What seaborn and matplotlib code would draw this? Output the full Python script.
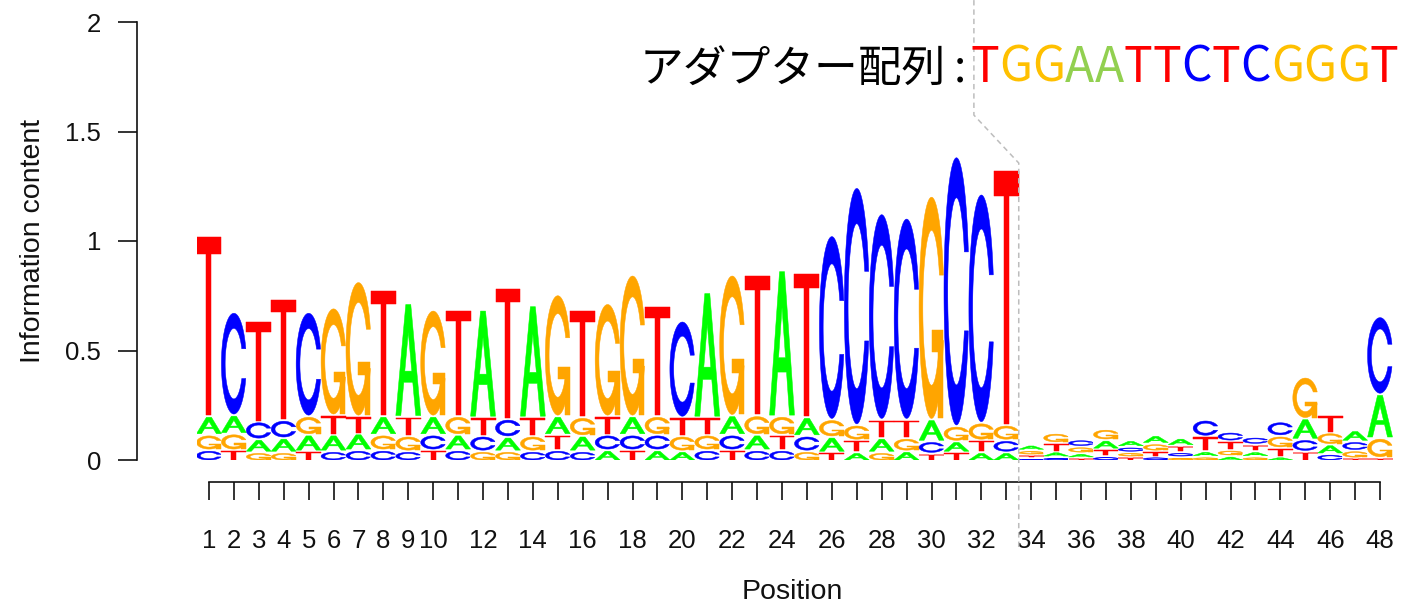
import numpy as np
import pandas as pd
import matplotlib
matplotlib.use("Agg")
import matplotlib.pyplot as plt
from matplotlib.path import Path
from matplotlib.patches import PathPatch
import seaborn as sns

# ---------------- data (letter heights in bits) ----------------
positions = list(range(1, 49))
heights_A = [0.075, 0.075, 0.050, 0.055, 0.065, 0.065, 0.065, 0.075, 0.507, 0.075,
             0.060, 0.480, 0.055, 0.500, 0.075, 0.060, 0.040, 0.075, 0.040, 0.035,
             0.560, 0.078, 0.060, 0.655, 0.075, 0.060, 0.030, 0.055, 0.035, 0.090,
             0.040, 0.030, 0.030, 0.015, 0.015, 0.012, 0.032, 0.020, 0.028, 0.025,
             0.015, 0.013, 0.014, 0.010, 0.085, 0.033, 0.040, 0.190]
heights_C = [0.040, 0.460, 0.070, 0.072, 0.465, 0.035, 0.040, 0.040, 0.035, 0.060,
             0.040, 0.060, 0.072, 0.035, 0.040, 0.035, 0.060, 0.060, 0.060, 0.430,
             0.040, 0.060, 0.040, 0.040, 0.060, 0.830, 1.075, 0.930, 0.910, 0.045,
             1.220, 1.035, 0.045, 0.003, 0.008, 0.022, 0.012, 0.015, 0.010, 0.012,
             0.065, 0.032, 0.024, 0.055, 0.045, 0.022, 0.032, 0.345]
heights_G = [0.060, 0.065, 0.030, 0.030, 0.075, 0.480, 0.605, 0.060, 0.060, 0.475,
             0.075, 0.035, 0.035, 0.060, 0.545, 0.075, 0.505, 0.635, 0.075, 0.060,
             0.060, 0.632, 0.078, 0.075, 0.035, 0.070, 0.060, 0.030, 0.050, 1.010,
             0.060, 0.070, 0.060, 0.012, 0.035, 0.020, 0.040, 0.012, 0.025, 0.008,
             0.010, 0.018, 0.010, 0.045, 0.180, 0.045, 0.025, 0.080]
heights_T = [0.815, 0.040, 0.450, 0.543, 0.035, 0.080, 0.070, 0.565, 0.078, 0.040,
             0.475, 0.075, 0.588, 0.075, 0.060, 0.480, 0.075, 0.040, 0.495, 0.075,
             0.070, 0.040, 0.632, 0.060, 0.650, 0.030, 0.045, 0.075, 0.075, 0.025,
             0.030, 0.045, 1.155, 0.004, 0.030, 0.004, 0.022, 0.008, 0.015, 0.020,
             0.058, 0.030, 0.022, 0.030, 0.034, 0.070, 0.003, 0.005]
x_tick_labels = [str(p) if (p <= 10 or p % 2 == 0) else "" for p in positions]
y_ticks = [0, 0.5, 1, 1.5, 2]
y_tick_labels = ["0", "0.5", "1", "1.5", "2"]
title_prefix = "アダプター配列"
adapter_seq = "TGGAATTCTCGGGT"

df = pd.DataFrame({"A": heights_A, "C": heights_C, "G": heights_G, "T": heights_T},
                  index=positions)

# ---------------- styles ----------------
letter_colors = {"A": "#00FF00", "C": "#0000FF", "G": "#FFA500", "T": "#FF0000"}
title_colors = {"A": "#92D050", "C": "#0000FF", "G": "#FFC000", "T": "#FF0000"}
axis_color = "#111111"

sns.set_theme(style="white")
plt.rcParams["font.family"] = ["Liberation Sans", "Noto Sans CJK JP", "DejaVu Sans"]


# ---------------- seqLogo-style letter polygons (unit box) ----------------
def _c_ring():
    a1 = np.linspace(0.3 + np.pi / 2, np.pi, 100)
    a2 = np.linspace(np.pi, 1.5 * np.pi, 100)
    xl1, yl1 = 0.5 + 0.5 * np.sin(a1), 0.5 + 0.5 * np.cos(a1)
    xl2, yl2 = 0.5 + 0.5 * np.sin(a2), 0.5 + 0.5 * np.cos(a2)
    xl, yl = np.r_[xl1, xl2], np.r_[yl1, yl2]
    x = np.r_[xl, xl[::-1]]
    y = np.r_[yl, 1 - yl[::-1]]
    xi1, yi1 = 0.5 + 0.35 * np.sin(a1), 0.5 + 0.35 * np.cos(a1)
    keep = yi1 <= yl1.max()
    xi1, yi1 = xi1[keep], yi1[keep]
    yi1[0] = yl1.max()
    xi2, yi2 = 0.5 + 0.35 * np.sin(a2), 0.5 + 0.35 * np.cos(a2)
    xi, yi = np.r_[xi1, xi2], np.r_[yi1, yi2]
    x1 = np.r_[xi, xi[::-1]]
    y1 = np.r_[yi, 1 - yi[::-1]]
    return np.r_[x, x1[::-1]], np.r_[y, y1[::-1]], xl1.max()


def letter_polys(ch):
    if ch == "T":
        x = np.array([0, 10, 10, 6, 6, 4, 4, 0]) * 0.1
        y = np.array([10, 10, 9, 9, 0, 0, 9, 9]) * 0.1
        return [[(x, y)]]
    if ch == "A":
        ox = np.array([0, 4, 6, 10, 8, 6.8, 3.2, 2]) * 0.1
        oy = np.array([0, 10, 10, 0, 0, 3, 3, 0]) * 0.1
        ix = np.array([6.4, 5, 3.6]) * 0.1
        iy = np.array([4, 7.5, 4]) * 0.1
        return [[(ox, oy), (ix, iy)]]
    x, y, r1 = _c_ring()
    if ch == "C":
        return [[(x, y)]]
    h1 = 0.4
    xa = np.array([r1, 0.5, 0.5, r1 - 0.2, r1 - 0.2, r1])
    ya = np.array([h1, h1, h1 - 0.1, h1 - 0.1, 0, 0])
    return [[(x, y)], [(xa, ya)]]


def draw_letter(ax, ch, x0, y0, w, h):
    for group in letter_polys(ch):
        verts, codes = [], []
        for px, py in group:
            pts = np.column_stack([x0 + px * w, y0 + py * h])
            verts.extend(pts.tolist())
            verts.append(pts[0].tolist())
            codes.extend([Path.MOVETO] + [Path.LINETO] * (len(pts) - 1) + [Path.CLOSEPOLY])
        patch = PathPatch(Path(verts, codes), facecolor=letter_colors[ch],
                          edgecolor=letter_colors[ch], linewidth=0.35, zorder=3)
        ax.add_patch(patch)


# ---------------- figure ----------------
W, H = 1405, 614
fig = plt.figure(figsize=(W / 100, H / 100), dpi=100)
fig.patch.set_facecolor("white")
ax = fig.add_axes([196.5 / W, 154 / H, 1196 / W, 438 / H])
ax.set_facecolor("white")

gap = 0.01
for pos in df.index:
    col = df.loc[pos].sort_values(kind="stable")
    ybase = 0.0
    for ch, h in col.items():
        if h > 0:
            draw_letter(ax, ch, pos - 0.5, ybase, 1.0, h)
        ybase += h + gap

ax.set_xlim(0.5, 48.5)
ax.set_ylim(0, 2)
for s in ["top", "right"]:
    ax.spines[s].set_visible(False)
ax.spines["left"].set_position(("outward", 42.8))
ax.spines["left"].set_bounds(0, 2)
ax.spines["bottom"].set_position(("outward", 15.8))
ax.spines["bottom"].set_bounds(1, 48)
for s in ["left", "bottom"]:
    ax.spines[s].set_color(axis_color)
    ax.spines[s].set_linewidth(1.2)

ax.set_xticks(positions)
ax.set_xticklabels(x_tick_labels)
ax.set_yticks(y_ticks)
ax.set_yticklabels(y_tick_labels)
ax.tick_params(axis="y", direction="out", length=13.7, width=1.2, pad=12,
               labelsize=18.5, colors=axis_color, left=True)
ax.tick_params(axis="x", direction="out", length=13.0, width=1.2, pad=21,
               labelsize=18.5, colors=axis_color, bottom=True)
ax.grid(False)

fig.text(33 / W, 1 - 241 / H, "Information content", rotation=90,
         ha="center", va="center", fontsize=20.5, color=axis_color)
fig.text(792 / W, 1 - 592 / H, "Position", ha="center", va="center",
         fontsize=20.5, color=axis_color)

# dashed guide line
ax.plot([31.7, 31.7, 33.5, 33.5], [2.1, 1.575, 1.356, -0.40],
        color="#BDBDBD", lw=1.1, ls=(0, (3.5, 2.6)), clip_on=False, zorder=5)

# title with coloured adapter sequence
renderer = fig.canvas.get_renderer()
base_y = 1 - 82 / H
tfont = ["Noto Sans CJK JP", "DejaVu Sans"]
t = fig.text(640 / W, base_y, title_prefix, fontsize=31.5, family=tfont,
             color="black", ha="left", va="baseline")
x_px = t.get_window_extent(renderer).x1 + 7
t = fig.text(x_px / W, base_y, ":", fontsize=31.5, family=tfont,
             color="black", ha="left", va="baseline")
x_px = t.get_window_extent(renderer).x1 + 5
for ch in adapter_seq:
    tt = fig.text(x_px / W, base_y, ch, fontsize=34.5, family=tfont,
                  color=title_colors[ch], ha="left", va="baseline")
    x_px = tt.get_window_extent(renderer).x1

fig.savefig("out.png", dpi=100, facecolor="white")
